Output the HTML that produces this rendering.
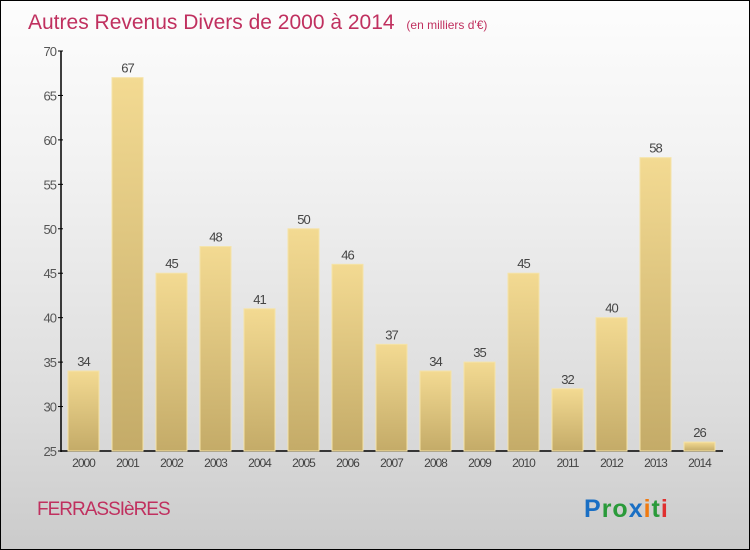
<!DOCTYPE html>
<html><head><meta charset="utf-8"><style>
body{margin:0}
#wrap{position:relative;width:748px;height:548px;border:1px solid #000;background:linear-gradient(#fdfdfd,#f2f2f2 30%,#dcdcdc 75%,#cbcbcb);font-family:"Liberation Sans",sans-serif;overflow:hidden}
svg{position:absolute;left:0;top:0}
</style></head><body>
<div id="wrap">
<svg id="chart" width="750" height="550">
<defs>
<linearGradient id="bg" x1="0" y1="0" x2="0" y2="1"><stop offset="0" stop-color="#f3da92"/><stop offset="1" stop-color="#c4ab68"/></linearGradient>
</defs>
<text x="27" y="28" font-size="21" fill="#c0305f">Autres Revenus Divers de 2000 à 2014 <tspan font-size="12" dx="6">(en milliers d'€)</tspan></text>
<text x="36" y="514" font-size="19" fill="#c0305f" letter-spacing="-1">FERRASSIèRES</text>
<text x="583" y="516" font-size="25" font-weight="bold" letter-spacing="1"><tspan fill="#1a6fc4">P</tspan><tspan fill="#2a9a3a">ro</tspan><tspan fill="#1a6fc4">x</tspan><tspan fill="#f07a10">i</tspan><tspan fill="#2a9a3a">t</tspan><tspan fill="#e03030">i</tspan></text>
<g id="axes"></g><g id="bars"></g>
</svg>
</div>
<script>
const categories=["2000","2001","2002","2003","2004","2005","2006","2007","2008","2009","2010","2011","2012","2013","2014"];
const values=[34,67,45,48,41,50,46,37,34,35,45,32,40,58,26];
const yTicks=[25,30,35,40,45,50,55,60,65,70];
const NS="http://www.w3.org/2000/svg";
const yMin=25,yMax=70,y0=450,y1=50;
const y=v=>y0-(v-yMin)/(yMax-yMin)*(y0-y1);
const x=i=>67+i*44;
const bw=31;
function mk(t,a,p){const e=document.createElementNS(NS,t);for(const k in a)e.setAttribute(k,a[k]);p.appendChild(e);return e;}
const ax=document.getElementById('axes'),bars=document.getElementById('bars');
const yl=mk('line',{x1:60,y1:y1,x2:60,y2:y0+1,stroke:'#000','stroke-width':1.5},ax);


const xl=mk('line',{x1:60,y1:y0,x2:722,y2:y0,stroke:'#000','stroke-width':1.5},ax);


yTicks.forEach(t=>{
 mk('line',{x1:57,x2:62,y1:y(t),y2:y(t),stroke:'#000'},ax);
 const tx=mk('text',{x:55,y:y(t)+5,'text-anchor':'end','font-size':13,fill:'#555','letter-spacing':'-1'},ax);
 tx.textContent=t;
 
 
});
categories.forEach((c,i)=>{
 const r=mk('rect',{x:x(i),y:y(values[i]),width:bw,height:y0-y(values[i]),fill:'url(#bg)',stroke:'#f5e3a8','stroke-width':1},bars);
 
 
 const v=mk('text',{x:x(i)+bw/2,y:y(values[i])-5,'text-anchor':'middle','font-size':13,fill:'#444','letter-spacing':'-1'},bars);
 v.textContent=values[i];
 
 
 const l=mk('text',{x:x(i)+bw/2,y:y0+16,'text-anchor':'middle','font-size':12,fill:'#444','letter-spacing':'-1'},ax);
 l.textContent=c;
 
 
});
</script>
</body></html>
